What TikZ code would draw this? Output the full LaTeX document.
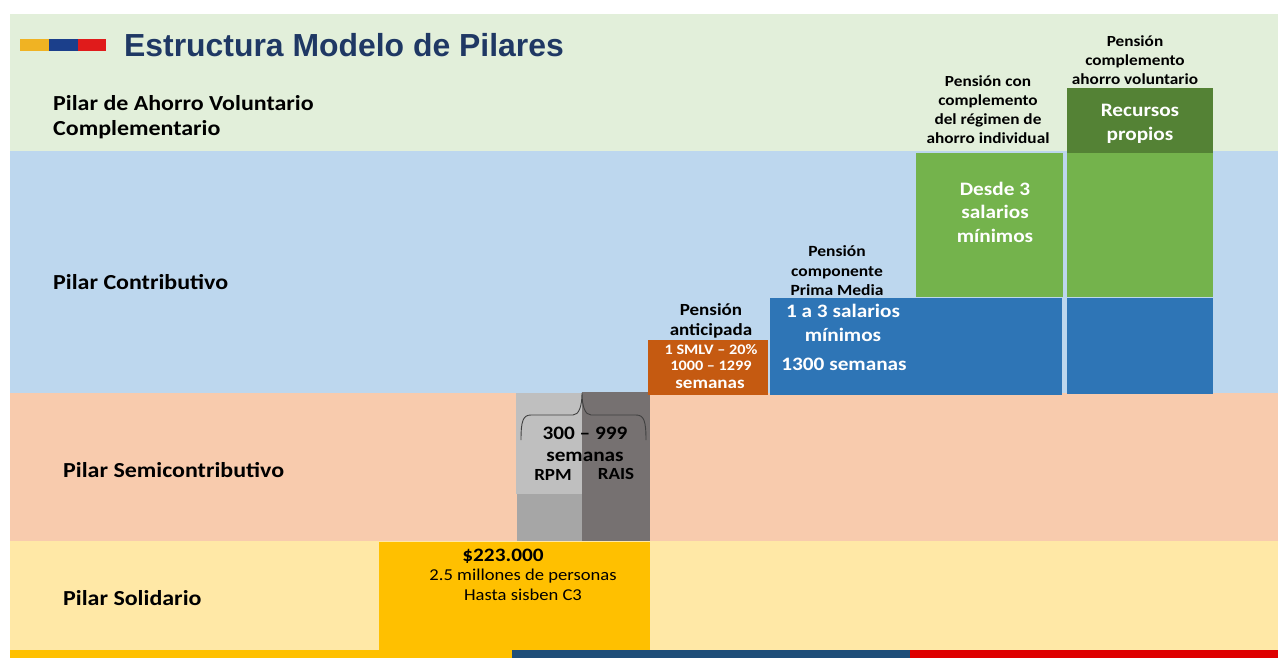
\documentclass[tikz,border=0pt]{standalone}
\usepackage{fontspec}
\setmainfont{Carlito}[FakeStretch=1.12]
\newfontfamily\titlefont{Liberation Sans}
\usetikzlibrary{positioning, calc}
\definecolor{ahorrofill}{HTML}{E2EFDA}
\definecolor{contribfill}{HTML}{BDD7EE}
\definecolor{semifill}{HTML}{F8CBAD}
\definecolor{solidfill}{HTML}{FFE8A6}
\definecolor{pmblue}{HTML}{2E75B6}
\definecolor{rgreen}{HTML}{74B34C}
\definecolor{vgreen}{HTML}{548235}
\definecolor{antorange}{HTML}{C55A11}
\definecolor{solidblk}{HTML}{FFC000}
\definecolor{rpmgray}{HTML}{BFBFBF}
\definecolor{rpmlow}{HTML}{A6A6A6}
\definecolor{raisgray}{HTML}{767171}
\definecolor{titlenavy}{HTML}{1F3864}
\definecolor{stripyellow}{HTML}{FFC000}
\definecolor{stripblue}{HTML}{1F4E79}
\definecolor{stripred}{HTML}{DE0000}
\definecolor{logoyellow}{HTML}{F0B323}
\definecolor{logoblue}{HTML}{1B3F8B}
\definecolor{logored}{HTML}{E01B1B}
\definecolor{bracegray}{HTML}{404040}
\tikzset{
  band/.style={rectangle, anchor=north west, inner sep=0pt, draw=none},
  blk/.style={band},
  pilar/.style={anchor=west, align=left, inner sep=0pt, text=black,
                font=\fontsize{21.4}{25}\selectfont\bfseries},
  caption/.style={align=center, inner sep=0pt, text=black,
                  font=\fontsize{15.4}{19}\selectfont\bfseries},
  blktext/.style={align=center, inner sep=0pt, text=white,
                  font=\fontsize{19}{23.5}\selectfont\bfseries},
  smalltext/.style={align=center, inner sep=0pt, text=white,
                    font=\fontsize{14.5}{16}\selectfont\bfseries},
  graytext/.style={align=center, inner sep=0pt, text=black,
                   font=\fontsize{19}{22}\selectfont\bfseries},
  soltext/.style={align=center, inner sep=0pt, text=black,
                  font=\fontsize{16.6}{20}\selectfont},
  bracepath/.style={draw=bracegray, line width=0.9pt},
}

\begin{document}
\begin{tikzpicture}[x=1pt, y=-1pt]
\useasboundingbox (0,0) rectangle (1278,658);

% Pillar bands
\node[band, fill=ahorrofill, minimum width=1268pt, minimum height=137pt] (bandahorro) at (10,14) {};
\node[band, fill=contribfill, minimum width=1268pt, minimum height=242pt] (bandcontrib) at (10,151) {};
\node[band, fill=semifill, minimum width=1268pt, minimum height=148pt] (bandsemi) at (10,393) {};
\node[band, fill=solidfill, minimum width=1268pt, minimum height=109pt] (bandsolid) at (10,541) {};

% Colour strip at the bottom
\node[band, fill=stripyellow, minimum width=502pt, minimum height=8pt] (stripa) at (10,650) {};
\node[band, fill=stripblue, minimum width=398pt, minimum height=8pt] (stripb) at (512,650) {};
\node[band, fill=stripred, minimum width=368pt, minimum height=8pt] (stripc) at (910,650) {};

% Logo bars and title
\node[band, fill=logoyellow, minimum width=29pt, minimum height=12pt] (logoa) at (20,39) {};
\node[band, fill=logoblue, minimum width=29pt, minimum height=12pt] (logob) at (49,39) {};
\node[band, fill=logored, minimum width=28pt, minimum height=12pt] (logoc) at (78,39) {};
\node[inner sep=0pt, text=titlenavy, font=\titlefont\fontsize{31.9}{36}\selectfont\bfseries]
  (title) at (344,45) {Estructura Modelo de Pilares};

% Pillar names
\node[pilar] (lahorro) at (53,117) {Pilar de Ahorro Voluntario\\Complementario};
\node[pilar] (lcontrib) at (53,282) {Pilar Contributivo};
\node[pilar] (lsemi) at (63,470) {Pilar Semicontributivo};
\node[pilar] (lsolid) at (63,598) {Pilar Solidario};

% Solidario block
\node[blk, fill=solidblk, minimum width=271pt, minimum height=108pt] (solid) at (379,542) {};
\node[inner sep=0pt, font=\fontsize{19}{22}\selectfont\bfseries] (solidval) at (503,556) {\$223.000};
\node[soltext] (solidnote) at (523,585) {2.5 millones de personas\\Hasta sisben C3};

% Semicontributivo: RPM and RAIS
\node[blk, fill=rpmgray, minimum width=66pt, minimum height=101pt] (rpm) at (516,393) {};
\node[blk, fill=rpmlow, minimum width=66pt, minimum height=47pt] (rpmlow) at (517,494) {};
\node[blk, fill=raisgray, minimum width=68pt, minimum height=149pt] (rais) at (582,392) {};
\coordinate (bracel) at (521,440);
\coordinate (bracetip) at (582,393);
\coordinate (bracer) at (646,440);
\draw[bracepath] (bracel) .. controls (521,421) and (523,415) .. (531,415) -- (573,415)
  .. controls (579,415) and (582,406) .. (bracetip)
  .. controls (582,406) and (585,415) .. (591,415) -- (636,415)
  .. controls (644,415) and (646,421) .. (bracer);
\node[graytext] (weeks) at (585,444) {300 -- 999\\semanas};
\node[inner sep=0pt, font=\fontsize{17}{20}\selectfont\bfseries] (lrpm) at (553,475) {RPM};
\node[inner sep=0pt, font=\fontsize{17}{20}\selectfont\bfseries] (lrais) at (616,474) {RAIS};

% Contributivo: anticipated pension
\node[blk, fill=antorange, minimum width=120pt, minimum height=55pt] (antic) at (648,340) {};
\node[caption, font=\fontsize{17}{20}\selectfont\bfseries] (capantic) at (711,321) {Pensión\\anticipada};
\node[smalltext] (antictxt) at (711,358) {1 SMLV -- 20\%\\1000 -- 1299};
\node[smalltext, font=\fontsize{17}{18}\selectfont\bfseries] (anticsem) at (710,384) {semanas};

% Contributivo: Prima Media
\node[blk, fill=pmblue, minimum width=146pt, minimum height=97pt] (prima) at (770,298) {};
\node[caption, font=\fontsize{15.6}{19.5}\selectfont\bfseries] (capprima) at (837,271) {Pensión\\componente\\Prima Media};
\node[blktext] (primatxt) at (843,323) {1 a 3 salarios\\mínimos};
\node[blktext] (primasem) at (844,364) {1300 semanas};

% Ahorro individual column
\node[blk, fill=pmblue, minimum width=146pt, minimum height=97pt] (indivlow) at (916,298) {};
\node[blk, fill=rgreen, minimum width=147pt, minimum height=144pt] (indiv) at (916,153) {};
\node[blktext] (indivtxt) at (995,212) {Desde 3\\salarios\\mínimos};
\node[caption] (capindiv) at (988,110) {Pensión con\\complemento\\del régimen de\\ahorro individual};

% Ahorro voluntario column
\node[blk, fill=pmblue, minimum width=146pt, minimum height=96pt] (volow) at (1067,298) {};
\node[blk, fill=rgreen, minimum width=146pt, minimum height=144pt] (volmid) at (1067,153) {};
\node[blk, fill=vgreen, minimum width=146pt, minimum height=65pt] (volpropio) at (1067,88) {};
\node[blktext] (voltxt) at (1140,124) {Recursos\\propios};
\node[caption] (capvol) at (1135,60) {Pensión\\complemento\\ahorro voluntario};

\end{tikzpicture}
\end{document}
